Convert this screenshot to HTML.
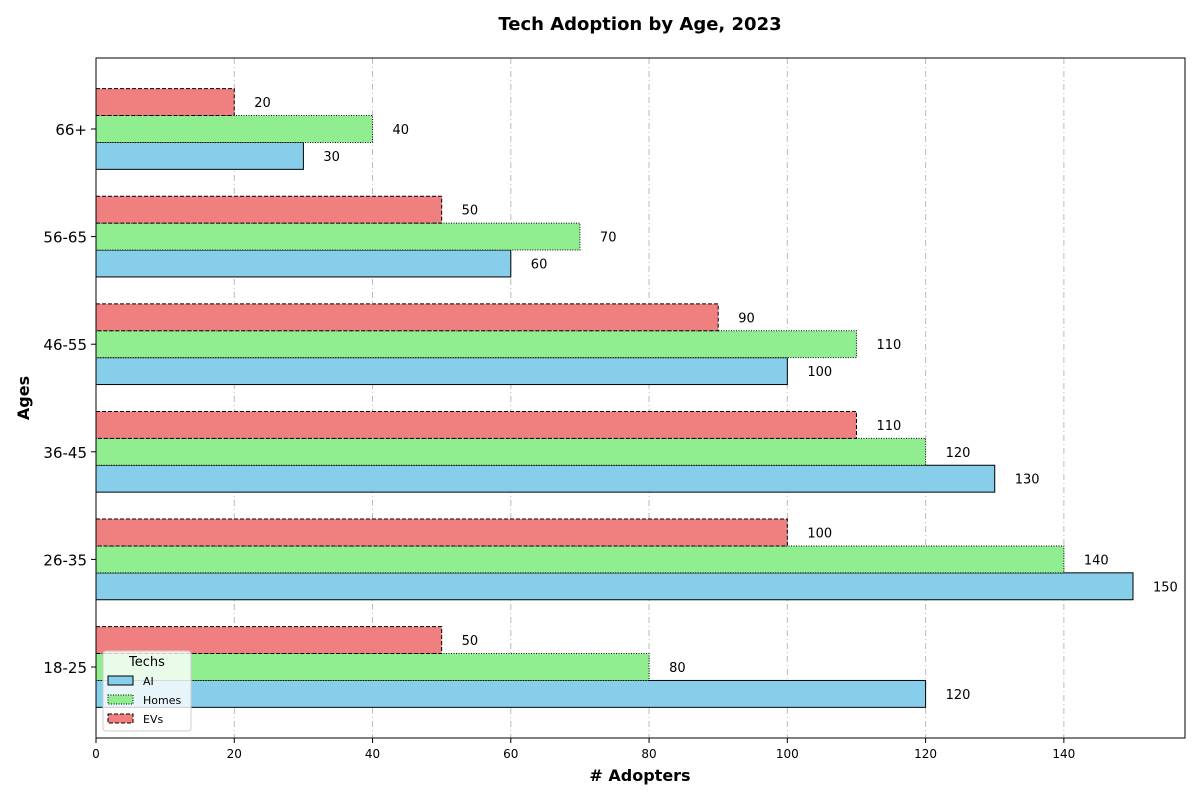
<!DOCTYPE html>
<html><head><meta charset="utf-8"><style>
body{margin:0;background:#fff;}
svg text{font-family:"DejaVu Sans","Liberation Sans",sans-serif;}
</style></head><body>
<svg id="chart" width="1200" height="800" viewBox="0 0 1200 800" xmlns="http://www.w3.org/2000/svg">
<rect width="1200" height="800" fill="#fff"/>
<text x="640" y="30" text-anchor="middle" font-size="18" font-weight="bold">Tech Adoption by Age, 2023</text>
<g id="grid"></g>
<g id="bars"></g>
<g id="labels"></g>
<rect x="96" y="58" width="1089" height="680" fill="none" stroke="#000" stroke-width="1"/>
<g id="xticks"></g>
<g id="yticks"></g>
<text x="640" y="781" text-anchor="middle" font-size="16" font-weight="bold"># Adopters</text>
<text x="29" y="398" text-anchor="middle" font-size="16" font-weight="bold" transform="rotate(-90 29 398)">Ages</text>
<g id="legend">
<rect x="103" y="651" width="88" height="80" rx="3" fill="#fff" fill-opacity="0.8" stroke="#ccc"/>
<text x="147" y="666" text-anchor="middle" font-size="13">Techs</text>
<rect x="108" y="676" width="25" height="9" fill="#87CEEB" stroke="#000"/>
<text x="143" y="685" font-size="11">AI</text>
<rect x="108" y="695" width="25" height="9" fill="#90EE90" stroke="#000" stroke-dasharray="1,1.5"/>
<text x="143" y="704" font-size="11">Homes</text>
<rect x="108" y="714" width="25" height="9" fill="#F08080" stroke="#000" stroke-dasharray="4,2"/>
<text x="143" y="723" font-size="11">EVs</text>
</g>
</svg>
<script>
const categories = ["18-25","26-35","36-45","46-55","56-65","66+"];
const aiValues = [120,150,130,100,60,30];
const homesValues = [80,140,120,110,70,40];
const evsValues = [50,100,110,90,50,20];
const xTicks = [0,20,40,60,80,100,120,140];
const NS = "http://www.w3.org/2000/svg";
const x = v => 96 + v * (1037/150);
const y = i => 667 - i * 107.6;
const bh = 26.9;
function mk(tag, attrs, parent){const e=document.createElementNS(NS,tag);for(const k in attrs)e.setAttribute(k,attrs[k]);document.getElementById(parent).appendChild(e);return e;}
xTicks.forEach(t=>{
  if(t>0){const g=mk('line',{x1:x(t),x2:x(t),y1:58,y2:738,stroke:'#bbb','stroke-dasharray':'6,3,1,3','stroke-width':1},'grid');
  
  }
  const tk=mk('line',{x1:x(t),x2:x(t),y1:738,y2:743,stroke:'#000'},'xticks');
  
  
  const tl=mk('text',{x:x(t),y:758,'text-anchor':'middle','font-size':12},'xticks');tl.textContent=t;
  
  
});
categories.forEach((c,i)=>{
  const tk=mk('line',{x1:91,x2:96,y1:y(i),y2:y(i),stroke:'#000'},'yticks');
  
  
  const tl=mk('text',{x:87,y:y(i)+6,'text-anchor':'end','font-size':15},'yticks');tl.textContent=c;
  
  
});
const series=[
  {vals:aiValues,fill:'#87CEEB',dash:'',off:bh,name:'ai'},
  {vals:homesValues,fill:'#90EE90',dash:'1,1.5',off:0,name:'homes'},
  {vals:evsValues,fill:'#F08080',dash:'4,2',off:-bh,name:'evs'}];
series.forEach(s=>{
  s.vals.forEach((v,i)=>{
    const cy=y(i)+s.off;
    const r=mk('rect',{x:96,y:cy-bh/2,width:x(v)-96,height:bh,fill:s.fill,stroke:'#000','stroke-width':1},'bars');
    if(s.dash)r.setAttribute('stroke-dasharray',s.dash);
    
    
    const t=mk('text',{x:x(v)+20,y:cy+5,'font-size':13},'labels');t.textContent=v;
    
    
  });
});
</script>
</body></html>
